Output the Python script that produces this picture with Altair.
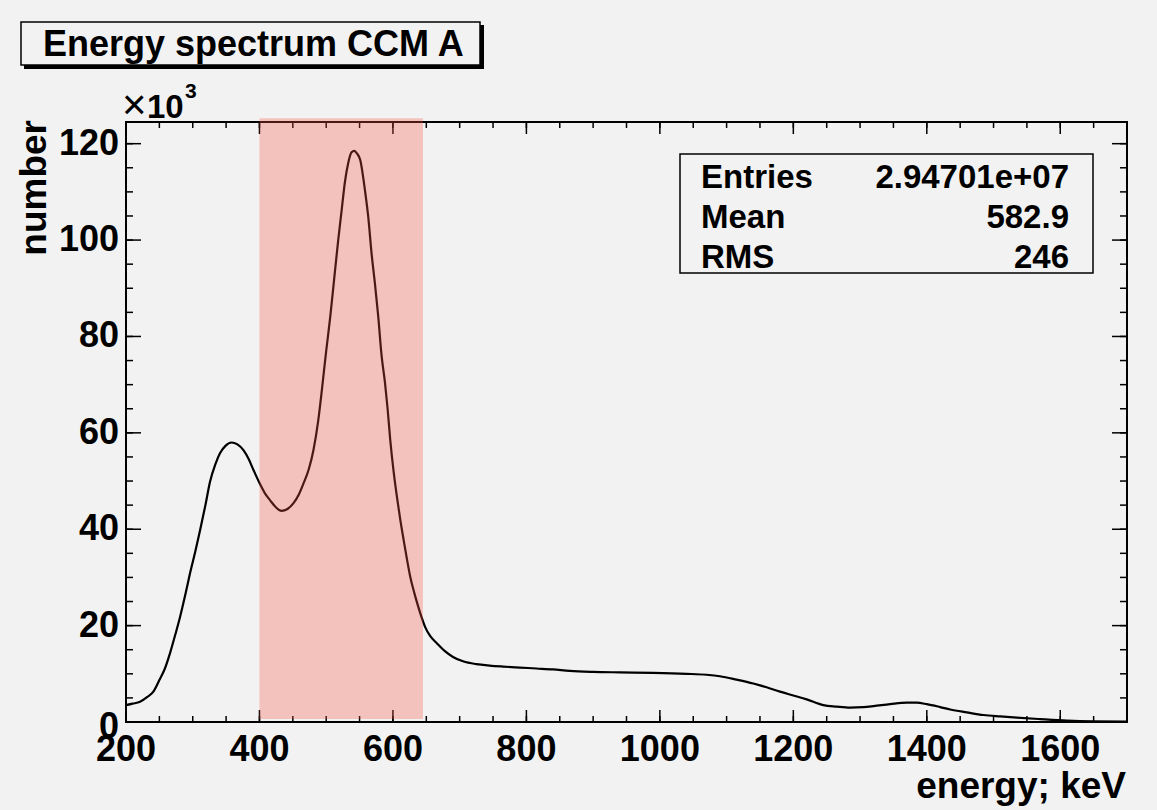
import altair as alt
import pandas as pd

# ---- data ----
energy = [200, 210, 221, 232, 241, 250, 258, 266, 274, 281, 289, 296, 304, 311, 319, 326,
          334, 341, 349, 358, 367, 376, 384, 391, 400, 408, 416, 425, 433, 442, 451, 459,
          466, 474, 481, 488, 494, 500, 506, 512, 518, 523, 528, 533, 538, 542, 546, 551,
          558, 563, 568, 573, 578, 583, 588, 592, 596, 601, 606, 611, 616, 621, 626, 632,
          638, 643, 648, 656, 666, 677, 690, 705, 725, 745, 765, 790, 815, 840, 865, 900,
          940, 990, 1040, 1070, 1090, 1115, 1140, 1160, 1180, 1200, 1220, 1245, 1265, 1285,
          1305, 1320, 1345, 1370, 1385, 1400, 1420, 1435, 1460, 1485, 1510, 1535, 1570,
          1610, 1650, 1700]
counts_k = [3.5, 3.8, 4.2, 5.2, 6.3, 8.7, 11.0, 14.3, 18.2, 21.8, 26.5, 30.9, 35.5, 39.8, 45.0, 49.9,
            53.5, 55.8, 57.3, 58.0, 57.6, 56.4, 54.5, 52.3, 49.6, 47.5, 46.0, 44.5, 43.8, 44.2, 45.4, 47.2,
            49.5, 52.5, 56.5, 62.5, 69.5, 77.0, 84.0, 92.0, 100.0, 106.0, 112.0, 116.0, 118.2, 118.5, 118.0, 116.6,
            110.4, 104.8, 97.2, 91.0, 84.1, 76.0, 70.5, 65.0, 58.5, 52.0, 46.7, 42.0, 37.8, 33.8, 30.1, 26.8,
            23.9, 21.7, 19.8, 17.8, 16.3, 14.8, 13.5, 12.6, 12.0, 11.7, 11.5, 11.3, 11.1, 10.9, 10.6, 10.4,
            10.3, 10.2, 10.0, 9.8, 9.5, 8.8, 8.0, 7.2, 6.3, 5.5, 4.7, 3.5, 3.2, 3.0,
            3.1, 3.3, 3.7, 4.0, 4.0, 3.7, 3.1, 2.6, 2.0, 1.45, 1.15, 0.9, 0.6,
            0.3, 0.15, 0.1]

band_start = [400]
band_end = [645]
band_lo = [0.6]
band_hi = [125.3]

x_major = [200, 400, 600, 800, 1000, 1200, 1400, 1600]
x_minor = list(range(200, 1701, 50))
y_major = [0, 20, 40, 60, 80, 100, 120]
y_minor = list(range(0, 125, 5))

title_text = "Energy spectrum CCM A"
stat_names = ["Entries", "Mean", "RMS"]
stat_values = ["2.94701e+07", "582.9", "246"]
x_title = "energy; keV"
y_title = "number"

FONT = "Liberation Sans"
W, H = 1001, 600
XDOM = [200, 1700]
YDOM = [0, 124.5]

xs = alt.Scale(domain=XDOM, nice=False, zero=False)
ys = alt.Scale(domain=YDOM, nice=False, zero=False)

df = pd.DataFrame({"energy": energy, "count": counts_k})
one = alt.Data(values=[{}])

curve = alt.Chart(df).mark_line(color="black", strokeWidth=2.2, interpolate="monotone").encode(
    x=alt.X("energy:Q", scale=xs, axis=None),
    y=alt.Y("count:Q", scale=ys, axis=None),
)

# tick labels drawn through the scales
xlab = alt.Chart(pd.DataFrame({"t": x_major})).mark_text(
    font=FONT, fontSize=36, fontWeight="bold", align="center", baseline="alphabetic", color="black"
).encode(x=alt.X("t:Q", scale=xs, axis=None), y=alt.value(H + 39), text=alt.Text("t:Q", format="d"))

ylab = alt.Chart(pd.DataFrame({"t": y_major[1:]})).mark_text(
    font=FONT, fontSize=36, fontWeight="bold", align="right", baseline="middle", color="black"
).encode(y=alt.Y("t:Q", scale=ys, axis=None), x=alt.value(-7), text=alt.Text("t:Q", format="d"))

ylab0 = alt.Chart(pd.DataFrame({"t": y_major[:1]})).mark_text(
    font=FONT, fontSize=36, fontWeight="bold", align="right", baseline="middle", color="black", dy=5
).encode(y=alt.Y("t:Q", scale=ys, axis=None), x=alt.value(-7), text=alt.Text("t:Q", format="d"))


def xticks(vals, length):
    d = pd.DataFrame({"t": vals})
    bottom = alt.Chart(d).mark_rule(color="black", strokeWidth=1.5).encode(
        x=alt.X("t:Q", scale=xs, axis=None), y=alt.value(H), y2=alt.value(H - length))
    top = alt.Chart(d).mark_rule(color="black", strokeWidth=1.5).encode(
        x=alt.X("t:Q", scale=xs, axis=None), y=alt.value(0), y2=alt.value(length))
    return [bottom, top]


def yticks(vals, length):
    d = pd.DataFrame({"t": vals})
    left = alt.Chart(d).mark_rule(color="black", strokeWidth=1.5).encode(
        y=alt.Y("t:Q", scale=ys, axis=None), x=alt.value(0), x2=alt.value(length))
    right = alt.Chart(d).mark_rule(color="black", strokeWidth=1.5).encode(
        y=alt.Y("t:Q", scale=ys, axis=None), x=alt.value(W), x2=alt.value(W - length))
    return [left, right]


ticks = xticks(x_minor, 6) + xticks(x_major, 12) + yticks(y_minor, 7) + yticks(y_major, 15)

band = alt.Chart(pd.DataFrame({"a": band_start, "b": band_end, "lo": band_lo, "hi": band_hi})).mark_rect(
    color="#f9523e", opacity=0.3).encode(
    x=alt.X("a:Q", scale=xs, axis=None), x2="b:Q",
    y=alt.Y("lo:Q", scale=ys, axis=None), y2="hi:Q")


def box(x1, x2, y1, y2, fill, stroke=None, sw=0):
    kw = dict(fill=fill)
    if stroke:
        kw.update(stroke=stroke, strokeWidth=sw)
    return alt.Chart(one).mark_rect(**kw).encode(
        x=alt.value(x1), x2=alt.value(x2), y=alt.value(y1), y2=alt.value(y2))


def txt(s, x, y, size, align="left", weight="bold", baseline="alphabetic", angle=0):
    kw = dict(font=FONT, fontSize=size, fontWeight=weight, align=align, baseline=baseline,
              color="black")
    if angle:
        kw["angle"] = angle
    return alt.Chart(one).mark_text(**kw).encode(
        x=alt.value(x), y=alt.value(y), text=alt.value(s))


# title box with shadow
title_layers = [
    box(-102, 358, -97, -53, "black"),
    box(-105, 354, -100, -57, "#f2f2f2", "black", 1.5),
    txt(title_text, -83, -66, 36),
]

# stats box
stats_layers = [box(554, 967, 32, 151, "#f2f2f2", "black", 1.5)]
for i, (n, v) in enumerate(zip(stat_names, stat_values)):
    yb = 66 + i * 40
    stats_layers.append(txt(n, 575, yb, 33))
    stats_layers.append(txt(v, 943, yb, 33, align="right"))

# exponent label, axis titles
other = [
    txt("×", -4, -3, 42, weight="normal"),
    txt("10", 21, -4, 33),
    txt("3", 59, -24, 21),
    txt(x_title, 1000, 676, 37, align="right"),
    txt(y_title, -91, -2, 37, align="right", baseline="middle", angle=270),
]

chart = alt.layer(curve, *ticks, band, xlab, ylab, ylab0, *title_layers, *stats_layers, *other).properties(
    width=W, height=H,
    padding={"left": 126, "top": 122, "right": 30, "bottom": 88},
    autosize=alt.AutoSizeParams(type="none"),
    background="#f2f2f2",
).configure_view(stroke="black", strokeWidth=2, fill="#f2f2f2")

chart.save("out.html", embed_options={"renderer": "svg", "actions": False})
